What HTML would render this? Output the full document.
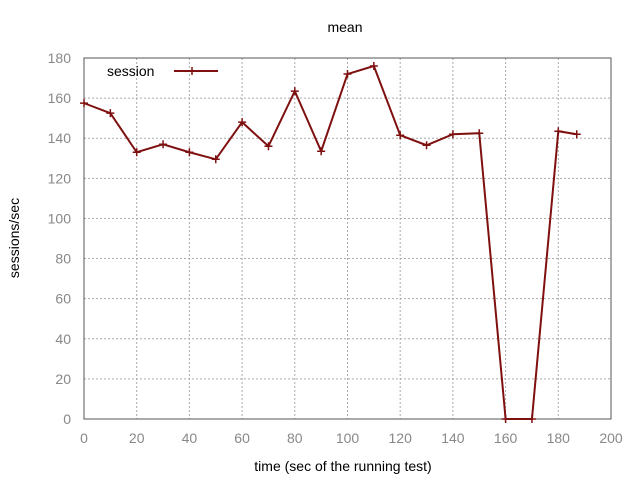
<!DOCTYPE html>
<html><head><meta charset="utf-8"><style>
body{margin:0;background:#fff;}
svg{display:block;font-family:"Liberation Sans",sans-serif;}
</style></head><body>
<svg id="chart" width="640" height="480">
<text x="345" y="32" font-size="14" text-anchor="middle" fill="#000">mean</text>
<g id="grid"></g><g id="ticks"></g>
<rect x="84" y="58" width="527" height="361" fill="none" stroke="#555" stroke-width="1"/>
<text x="343" y="471" font-size="14" text-anchor="middle">time (sec of the running test)</text>
<text transform="translate(19,238) rotate(-90)" font-size="14" text-anchor="middle">sessions/sec</text>
<g>
<text x="107" y="76" font-size="14">session</text>
<line x1="174" y1="71" x2="218" y2="71" stroke="#7f1010" stroke-width="2"/>
<path d="M192 67v8M188 71h8" stroke="#7f1010" stroke-width="1.5"/>
</g>
<g id="series"></g>
</svg>
<script>
const xs=[0,10,20,30,40,50,60,70,80,90,100,110,120,130,140,150,160,170,180,187];
const ys=[157.5,152.5,133,137,133,129.5,148,136,163.5,133.5,172,176,141.5,136.5,142,142.5,0,0,143.5,142];
const xTicks=[0,20,40,60,80,100,120,140,160,180,200];
const yTicks=[0,20,40,60,80,100,120,140,160,180];
const X=v=>84+v/200*527, Y=v=>419-v/180*361;
const NS="http://www.w3.org/2000/svg";
const g=document.getElementById('grid'),t=document.getElementById('ticks'),s=document.getElementById('series');
function mk(p,tag,a){const e=document.createElementNS(NS,tag);for(const k in a)e.setAttribute(k,a[k]);p.appendChild(e);return e;}
xTicks.forEach(v=>{
 const l=mk(g,'line',{x1:X(v),x2:X(v),y1:58,y2:419,stroke:'#aaa','stroke-dasharray':'2,2'});
 
 
 const tx=mk(t,'text',{x:X(v),y:443,'font-size':14,'text-anchor':'middle',fill:'#888'});tx.textContent=v;
 
 
});
yTicks.forEach(v=>{
 const l=mk(g,'line',{x1:84,x2:611,y1:Y(v),y2:Y(v),stroke:'#aaa','stroke-dasharray':'2,2'});
 
 
 const tx=mk(t,'text',{x:71,y:Y(v)+5,'font-size':14,'text-anchor':'end',fill:'#888'});tx.textContent=v;
 
 
});
const pl=mk(s,'polyline',{points:xs.map((x,i)=>X(x)+','+Y(ys[i])).join(' '),fill:'none',stroke:'#7f1010','stroke-width':2});


xs.forEach((x,i)=>{
 const m=mk(s,'path',{d:`M${X(x)} ${Y(ys[i])-4}v8M${X(x)-4} ${Y(ys[i])}h8`,stroke:'#7f1010','stroke-width':1.5});
 
 
});
</script>
</body></html>
